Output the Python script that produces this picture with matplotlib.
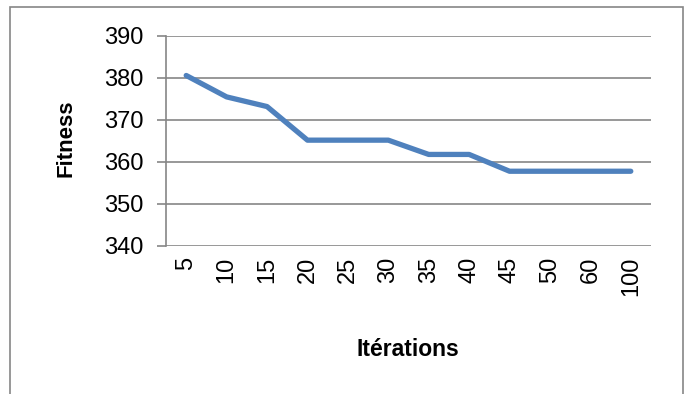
import matplotlib
matplotlib.use("Agg")
import matplotlib.pyplot as plt
from matplotlib.patches import Rectangle

plt.rcParams['font.family'] = ['Liberation Sans', 'DejaVu Sans']

iterations = ['5', '10', '15', '20', '25', '30', '35', '40', '45', '50', '60', '100']
fitness = [380.6, 375.5, 373.2, 365.2, 365.2, 365.2, 361.8, 361.8, 357.8, 357.8, 357.8, 357.8]

W, H = 686, 394
fig = plt.figure(figsize=(W / 100, H / 100), dpi=100)
ax = fig.add_axes([166 / W, 1 - 246 / H, (651 - 166) / W, (246 - 36) / H])

x = list(range(len(iterations)))
ax.plot(x, fitness, color='#4F81BD', linewidth=3.8, solid_capstyle='round', solid_joinstyle='round', zorder=3)

ax.set_xlim(-0.5, len(iterations) - 0.5)
ax.set_ylim(340, 390)
ax.set_yticks(range(340, 391, 10))
ax.set_xticks(x)
ax.set_xticklabels(iterations, rotation=90)

ax.grid(axis='y', color='#868686', linewidth=1.2)
ax.set_axisbelow(True)
for s in ['top', 'right', 'bottom']:
    ax.spines[s].set_visible(False)
ax.spines['left'].set_color('#868686')
ax.spines['left'].set_linewidth(1.2)
ax.tick_params(axis='y', length=6.5, width=1.2, color='#868686', pad=10, labelsize=17)
ax.tick_params(axis='x', length=0, pad=8, labelsize=17)

fig.text(66 / W, 1 - 138 / H, 'Fitness', rotation=90, ha='center', va='center',
         fontsize=16, fontweight='bold')
fig.text(408 / W, 1 - 350 / H, 'Itérations', ha='center', va='center',
         fontsize=16.5, fontweight='bold')

fig.patches.append(Rectangle((10 / W, -0.02), 673 / W, 1.02 - 7 / H, transform=fig.transFigure,
                             fill=False, edgecolor='#868686', linewidth=1.2))

fig.savefig('out.png', dpi=100)
